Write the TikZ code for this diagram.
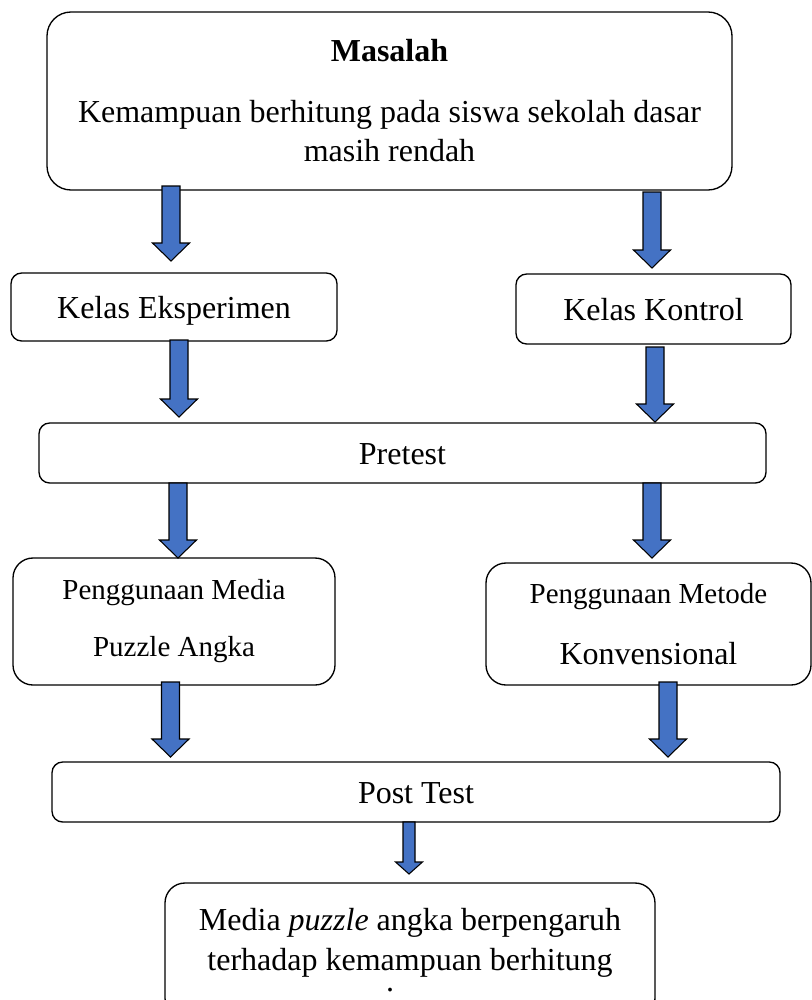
\documentclass[tikz,border=0pt]{standalone}
\usepackage{fontspec}
\setmainfont{Liberation Serif}
\usetikzlibrary{calc}
\definecolor{biru}{RGB}{68,114,196}

\tikzset{
  kotak/.style={draw,line width=1pt,rounded corners=8pt,inner sep=0pt,align=center,
    font=\fontsize{24}{29.25}\selectfont},
  satu/.style={kotak,text height=20pt,text depth=3.5pt},
  panah/.style={draw=black,line width=0.8pt,fill=biru,line join=miter},
}
% blok panah ke bawah: awal, ujung, setengah batang, setengah kepala, panjang kepala
\newcommand{\blokpanah}[5]{%
  \draw[panah] let \p1=(#1), \p2=(#2) in
    ({\x1-#3},\y1) -- ({\x1+#3},\y1) -- ({\x1+#3},{\y2+#5}) -- ({\x1+#4},{\y2+#5})
    -- (\x1,\y2) -- ({\x1-#4},{\y2+#5}) -- ({\x1-#3},{\y2+#5}) -- cycle;}

\begin{document}
\begin{tikzpicture}[x=0.75pt,y=-0.75pt]
  \useasboundingbox (0,0) rectangle (812,1000);
  \clip (0,0) rectangle (812,1000);
  \node[kotak,rounded corners=18pt,minimum width=513.75pt,minimum height=133.5pt] (masalah) at (389.5,101)
    {\textbf{Masalah}\\[16.5pt]Kemampuan berhitung pada siswa sekolah dasar\\masih rendah};
  \node[satu,minimum width=244.5pt,minimum height=51pt] (eksperimen) at (174,307) {Kelas Eksperimen};
  \node[satu,minimum width=206.25pt,minimum height=52.5pt] (kontrol) at (653.5,309) {Kelas Kontrol};
  \node[satu,minimum width=545.25pt,minimum height=45pt] (pretest) at (402.5,453) {Pretest};
  \node[kotak,rounded corners=15pt,minimum width=241.5pt,minimum height=95.25pt,
    font=\fontsize{21.75}{29.25}\selectfont] (media) at (174,621.5)
    {Penggunaan Media\\[13.5pt]Puzzle Angka};
  \node[kotak,rounded corners=15pt,minimum width=243.75pt,minimum height=91.5pt] (metode) at (648.5,624)
    {{\fontsize{21.75}{29.25}\selectfont Penggunaan Metode}\\[17pt]Konvensional};
  \node[satu,minimum width=546pt,minimum height=45pt] (posttest) at (416,792) {Post Test};
  \node[kotak,rounded corners=15pt,minimum width=367.5pt,minimum height=101.25pt,
    font=\fontsize{24}{30}\selectfont] (hasil) at (410,950.5)
    {Media \textit{puzzle} angka berpengaruh\\terhadap kemampuan berhitung\\[-14.25pt].\hspace*{30pt}};

  \foreach \i/\x/\ya/\yb in {1/171/186/261, 2/652/192/268, 3/179/340/417, 4/655/347/422,
                             5/178/483/558, 6/652/483/558, 7/170.5/682/757, 8/668/682/757} {
    \coordinate (a\i) at (\x,\ya);
    \coordinate (b\i) at (\x,\yb);
    \blokpanah{a\i}{b\i}{6.75pt}{13.9pt}{13.5pt}
  }
  \coordinate (a9) at (409,822);
  \coordinate (b9) at (409,874);
  \blokpanah{a9}{b9}{4.5pt}{10.1pt}{9pt}
\end{tikzpicture}
\end{document}
